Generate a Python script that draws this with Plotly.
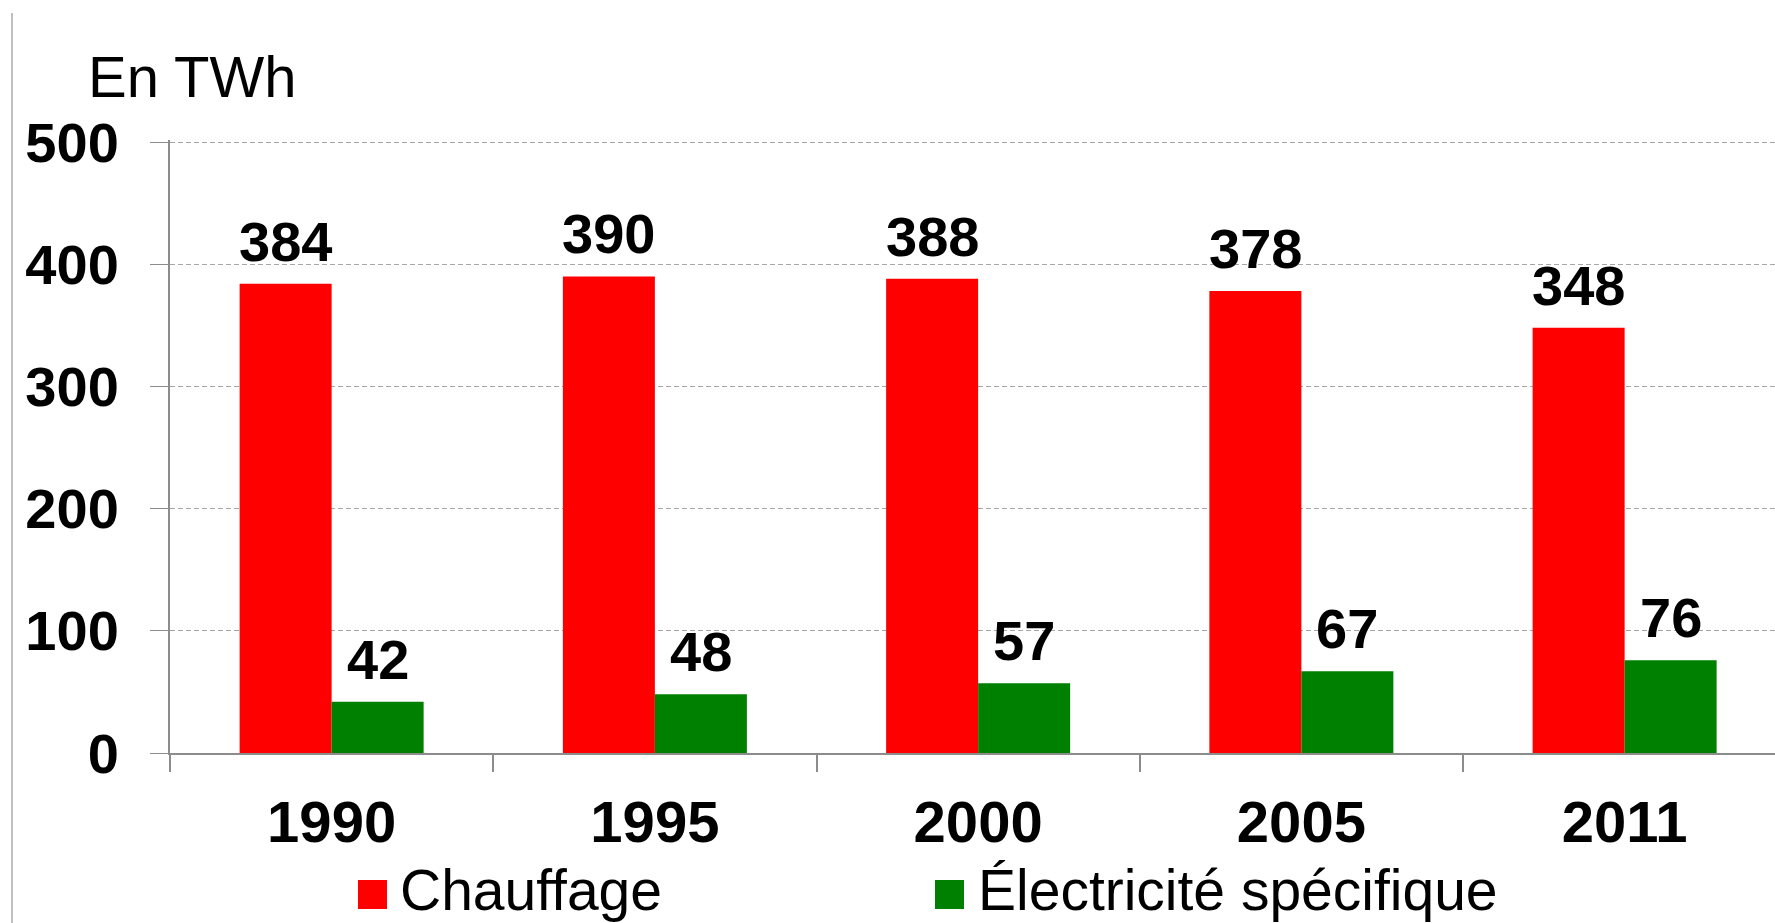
import plotly.graph_objects as go

years = ["1990", "1995", "2000", "2005", "2011"]
chauffage = [384, 390, 388, 378, 348]
electricite = [42, 48, 57, 67, 76]
series_names = ["Chauffage", "Électricité spécifique"]
y_ticks = [0, 100, 200, 300, 400, 500]
unit_label = "En TWh"

RED = "#FF0000"
GREEN = "#008000"
FONT = "Liberation Sans, Arial, sans-serif"
W, H = 1775, 923
L, T, B = 170, 140, 170
PW = W - L
PH = H - T - B
Y_TOP = 500 * PH / (PH - 2)
CAT_W = 323.25
BAR_PX = 92

fig = go.Figure()
fig.add_trace(go.Bar(x=years, y=chauffage, name=series_names[0], marker_color=RED,
                     marker_line_width=0, showlegend=False))
fig.add_trace(go.Bar(x=years, y=electricite, name=series_names[1], marker_color=GREEN,
                     marker_line_width=0, showlegend=False))

# data labels
for vals, shift in ((chauffage, -BAR_PX / 2), (electricite, BAR_PX / 2)):
    for i, v in enumerate(vals):
        fig.add_annotation(x=i, y=v, xref="x", yref="y", text=str(v), showarrow=False,
                           xshift=shift, yanchor="bottom", yshift=9,
                           font=dict(family=FONT, size=56, color="black", weight="bold"))

def px_to_paper_x(px):
    return (px - L) / PW

def px_to_paper_y(py):
    return (H - B - py) / PH

# unit label
fig.add_annotation(xref="paper", yref="paper", x=px_to_paper_x(86), y=px_to_paper_y(77),
                   xanchor="left", yanchor="middle", text=unit_label, showarrow=False,
                   font=dict(family=FONT, size=58, color="black"))

# legend (manual, large square swatches)
legend_items = [(series_names[0], RED, 358, 398), (series_names[1], GREEN, 935, 976)]
for name, col, sx, tx in legend_items:
    fig.add_shape(type="rect", xref="paper", yref="paper",
                  x0=px_to_paper_x(sx), x1=px_to_paper_x(sx + 29),
                  y0=px_to_paper_y(909), y1=px_to_paper_y(880),
                  fillcolor=col, line=dict(width=0))
    fig.add_annotation(xref="paper", yref="paper", x=px_to_paper_x(tx), y=px_to_paper_y(890),
                       xanchor="left", yanchor="middle", text=name, showarrow=False,
                       font=dict(family=FONT, size=57, color="black"))

# left border line
fig.add_shape(type="line", xref="paper", yref="paper",
              x0=px_to_paper_x(12), x1=px_to_paper_x(12),
              y0=px_to_paper_y(13), y1=px_to_paper_y(H),
              line=dict(color="#c0c0c0", width=2))

fig.update_layout(
    width=W, height=H,
    margin=dict(l=L, r=0, t=T, b=B, pad=0),
    paper_bgcolor="white", plot_bgcolor="white",
    barmode="group", bargap=1 - 2 * BAR_PX / CAT_W, bargroupgap=0,
    font=dict(family=FONT, color="black"),
    showlegend=False,
)
fig.update_xaxes(
    type="category", range=[-0.5, -0.5 + PW / CAT_W], automargin=False,
    showline=True, linecolor="#8c8c8c", linewidth=2,
    ticks="outside", tickson="boundaries", ticklen=17, tickcolor="#8c8c8c", tickwidth=2,
    showgrid=False,
    tickfont=dict(family=FONT, size=58, color="black", weight="bold"),
    ticklabelstandoff=17,
)
fig.update_yaxes(
    range=[0, Y_TOP], tickvals=y_ticks, automargin=False,
    showline=True, linecolor="#8c8c8c", linewidth=2,
    ticks="outside", ticklen=18, tickcolor="#8c8c8c", tickwidth=1,
    showgrid=True, gridcolor="#a6a6a6", gridwidth=1, griddash="5px,3px",
    zeroline=False,
    tickfont=dict(family=FONT, size=56, color="black", weight="bold"),
    ticklabelstandoff=20,
)

fig.write_html("out.html", config={"displayModeBar": False},
               post_script="document.body.style.margin='0';")
